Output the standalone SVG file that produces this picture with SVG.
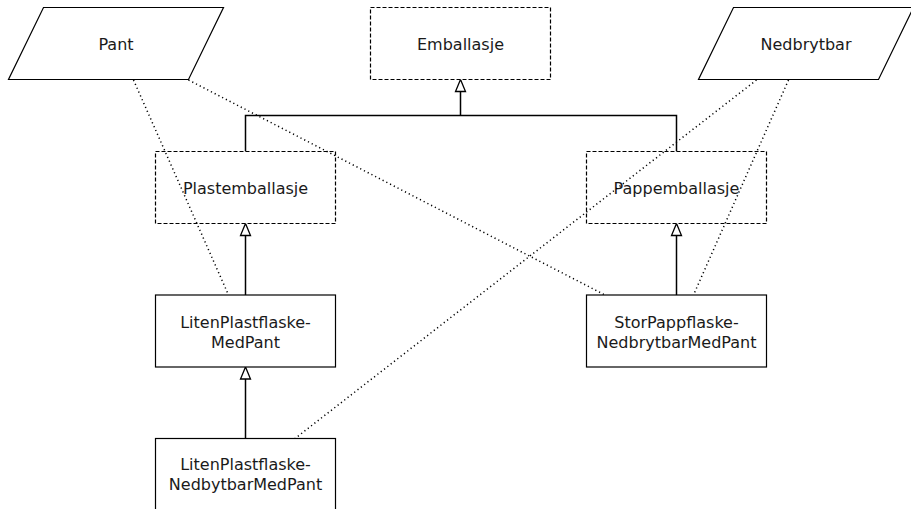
<svg xmlns="http://www.w3.org/2000/svg" width="911" height="509" viewBox="0 0 911 509">
<style>
.solid{fill:#fff;stroke:#000;stroke-width:1.2}
.dash{fill:#fff;stroke:#000;stroke-width:1.2;stroke-dasharray:4 2}
.t{font-family:"DejaVu Sans","Liberation Sans",sans-serif;font-size:16px;fill:#1a1a1a;text-anchor:middle}
.gen{fill:none;stroke:#000;stroke-width:1.5}
.dot{fill:none;stroke:#000;stroke-width:1.5;stroke-dasharray:1.2 3}
.head{fill:#fff;stroke:#000;stroke-width:1.3}
</style>
<rect width="911" height="509" fill="#fff"/>
<g id="connectors">
<path class="gen" d="M460.5 91.5V115.5M245.5 151.5V115.5H676.5V151.5"/>
<path class="gen" d="M245.5 235.5V295"/>
<path class="gen" d="M676.5 235.5V295"/>
<path class="gen" d="M245.5 379V438.5"/>
<polygon class="head" points="460.5,79.5 455.5,91.5 465.5,91.5"/>
<polygon class="head" points="245.5,223.5 240.5,235.5 250.5,235.5"/>
<polygon class="head" points="676.5,223.5 671.5,235.5 681.5,235.5"/>
<polygon class="head" points="245.5,367 240.5,379 250.5,379"/>
</g>
<g id="Pant">
<polygon class="solid" points="43.5,7.5 223.5,7.5 188.5,79.5 8.5,79.5"/>
<text class="t" x="116" y="49.5">Pant</text>
</g>
<g id="Emballasje">
<rect class="dash" x="370.5" y="7.5" width="180" height="72"/>
<text class="t" x="460.5" y="49.5">Emballasje</text>
</g>
<g id="Nedbrytbar">
<polygon class="solid" points="733.5,7.5 913.5,7.5 878.5,79.5 698.5,79.5"/>
<text class="t" x="806" y="49.5">Nedbrytbar</text>
</g>
<g id="Plastemballasje">
<rect class="dash" x="155.5" y="151.5" width="180" height="72"/>
<text class="t" x="245.5" y="193.5">Plastemballasje</text>
</g>
<g id="Pappemballasje">
<rect class="dash" x="586.5" y="151.5" width="180" height="72"/>
<text class="t" x="676.5" y="193.5">Pappemballasje</text>
</g>
<g id="LitenPlastflaskeMedPant">
<rect class="solid" x="155.5" y="295" width="180" height="72"/>
<text class="t" x="245.5" y="328">LitenPlastflaske-</text>
<text class="t" x="245.5" y="348">MedPant</text>
</g>
<g id="StorPappflaskeNedbrytbarMedPant">
<rect class="solid" x="586.5" y="295" width="180" height="72"/>
<text class="t" x="676.5" y="327.5">StorPappflaske-</text>
<text class="t" x="676.5" y="347.5">NedbrytbarMedPant</text>
</g>
<g id="LitenPlastflaskeNedbytbarMedPant">
<rect class="solid" x="155.5" y="438.5" width="180" height="80"/>
<text class="t" x="245.5" y="470">LitenPlastflaske-</text>
<text class="t" x="245.5" y="490">NedbytbarMedPant</text>
</g>
<g id="dotted">
<path class="dot" d="M133.5 80L228.5 295"/>
<path class="dot" d="M188.5 80L605 295"/>
<path class="dot" d="M756.5 80L295 438.5"/>
<path class="dot" d="M788.5 80L693.5 295"/>
</g>
</svg>
